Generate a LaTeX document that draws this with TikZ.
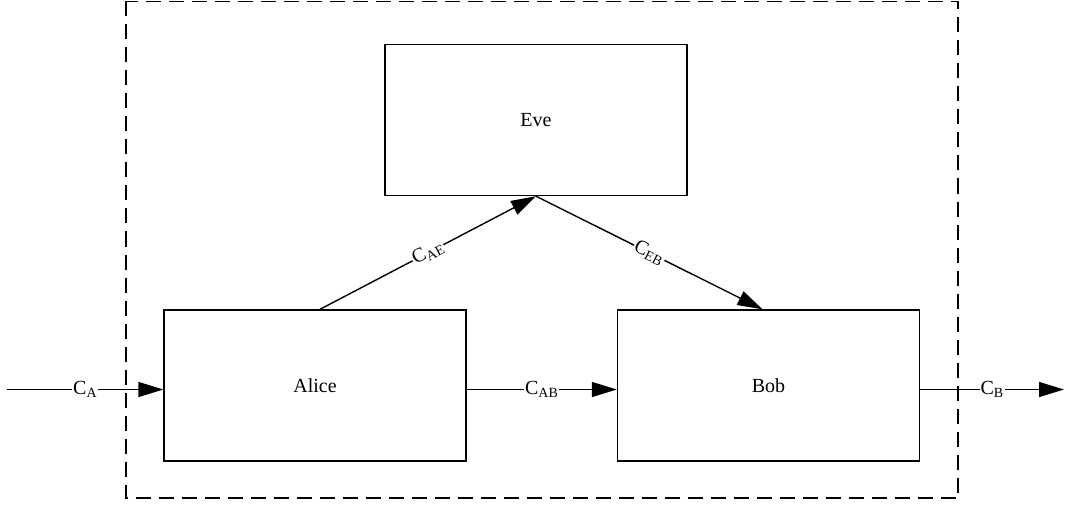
\documentclass[tikz,border=0pt]{standalone}
\usepackage{fontspec}
\setmainfont{Liberation Serif}
\usetikzlibrary{arrows.meta}
\begin{document}
\begin{tikzpicture}[x=1pt,y=-1pt,
  party/.style={draw,line width=1.4pt,minimum width=302pt,minimum height=151pt,inner sep=0pt,font=\fontsize{20}{24}\selectfont},
  link/.style={line width=1.4pt,-{Triangle[length=25pt,width=15pt]}},
  lbl/.style={fill=white,inner sep=1pt,font=\fontsize{20}{24}\selectfont}]
\useasboundingbox (0,0) rectangle (1068,505);
\draw[line width=1.6pt,dash pattern=on 15pt off 8pt] (126,1.5) rectangle (958,498);
\node[party] (Eve) at (536,120) {Eve};
\node[party] (Alice) at (315,385.5) {Alice};
\node[party] (Bob) at (768.5,385.5) {Bob};
\coordinate (ain) at (7,389.5);
\coordinate (bout) at (1064,389.5);
\draw[link] (ain) -- node[lbl]{C\textsubscript{A}} (ain -| Alice.west);
\draw[link] ([yshift=-4pt]Alice.east) -- node[lbl]{C\textsubscript{AB}} ([yshift=-4pt]Bob.west);
\draw[link] ([yshift=-4pt]Bob.east) -- node[lbl]{C\textsubscript{B}} (bout);
\draw[link] ([xshift=5pt]Alice.north) -- node[lbl,sloped]{C\textsubscript{AE}} (Eve.south);
\draw[link] (Eve.south) -- node[lbl,sloped]{C\textsubscript{EB}} ([xshift=-6pt]Bob.north);
\end{tikzpicture}
\end{document}
